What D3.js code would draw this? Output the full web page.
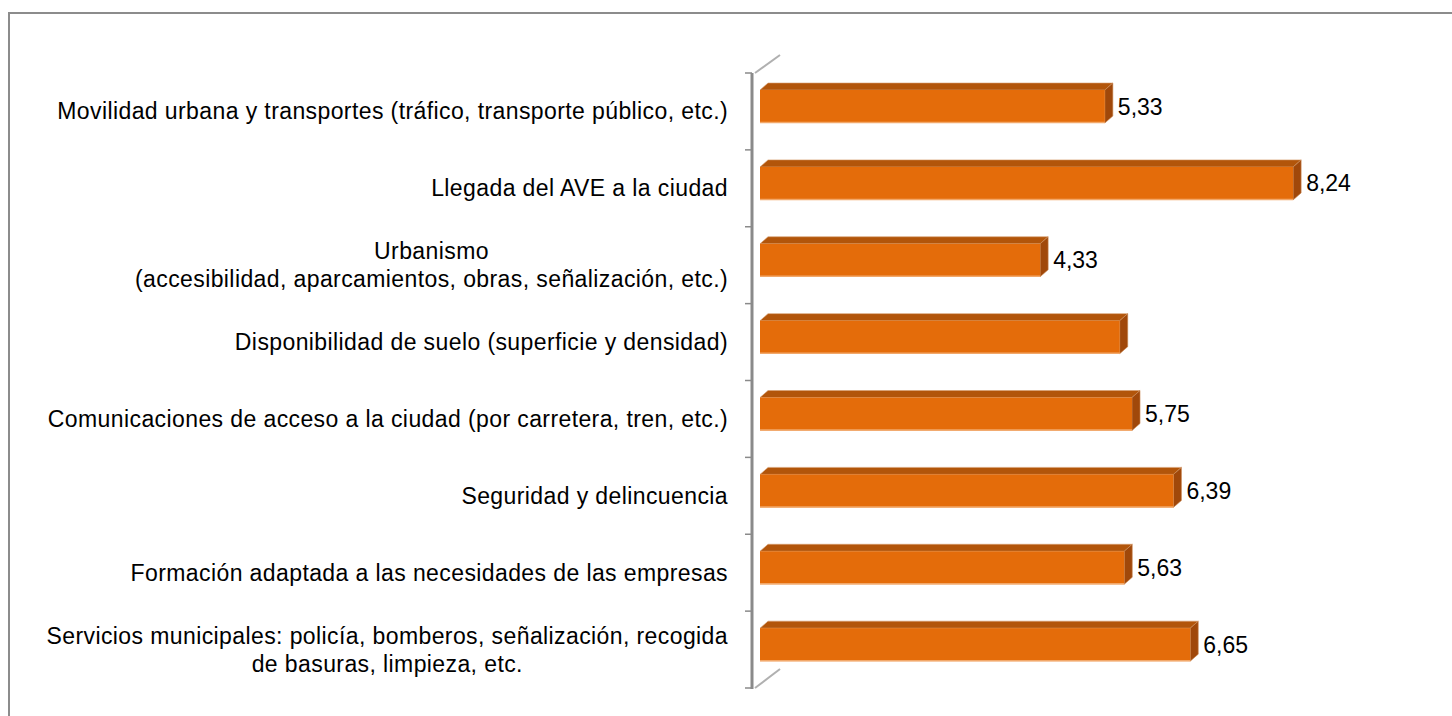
<!DOCTYPE html>
<html><head><meta charset="utf-8">
<script src="https://cdn.jsdelivr.net/npm/d3@7"></script>
<style>html,body{margin:0;padding:0;background:#fff;}svg{display:block;}</style>
</head><body>
<svg id="c" width="1452" height="716"></svg>
<script>
const categories = [
  ["Movilidad urbana y transportes (tráfico, transporte público, etc.)"],
  ["Llegada del AVE a la ciudad"],
  ["Urbanismo", "(accesibilidad, aparcamientos, obras, señalización, etc.)"],
  ["Disponibilidad de suelo (superficie y densidad)"],
  ["Comunicaciones de acceso a la ciudad (por carretera, tren, etc.)"],
  ["Seguridad y delincuencia"],
  ["Formación adaptada a las necesidades de las empresas"],
  ["Servicios municipales: policía, bomberos, señalización, recogida", "de basuras, limpieza, etc."]
];
const values = [5.33, 8.24, 4.33, 5.56, 5.75, 6.39, 5.63, 6.65];
const valueLabels = ["5,33", "8,24", "4,33", "", "5,75", "6,39", "5,63", "6,65"];

const svg = d3.select("#c");
const font = "'Liberation Sans', Arial, sans-serif";

// frame
svg.append("path").attr("d", "M9,716 V13 H1452").attr("fill", "none").attr("stroke", "#8c8c8c").attr("stroke-width", 2);

const x = d3.scaleLinear().domain([0, 10]).range([760, 1407]);
const y = d3.scaleBand().domain(d3.range(categories.length)).range([73, 688]).paddingInner(0).paddingOuter(0);
const bw = y.bandwidth();
const d = 8;
const faceTop = 17, faceH = 33;

// axis
svg.append("line").attr("x1", 752).attr("x2", 752).attr("y1", 73).attr("y2", 689)
  .attr("stroke", "#8a8a8a").attr("stroke-width", 3);
const ticks = d3.range(categories.length + 1).map(i => 73 + i * bw);
svg.selectAll(".tk").data(ticks).join("line").attr("class", "tk")
  .attr("x1", 745).attr("x2", 752).attr("y1", t => t).attr("y2", t => t)
  .attr("stroke", "#8a8a8a").attr("stroke-width", 1.5);
// 3D depth diagonals
svg.append("line").attr("x1", 755).attr("y1", 73).attr("x2", 780).attr("y2", 55).attr("stroke", "#b0b0b0").attr("stroke-width", 2);
svg.append("line").attr("x1", 755).attr("y1", 688).attr("x2", 780).attr("y2", 669).attr("stroke", "#b0b0b0").attr("stroke-width", 2);

const g = svg.append("g");
values.forEach((v, i) => {
  const x0 = x(0), x1 = x(v);
  const yt = y(i) + faceTop, yb = yt + faceH;
  g.append("path").attr("d", `M${x0},${yt} L${x0 + d},${yt - d + 1} L${x1 + d},${yt - d + 1} L${x1},${yt} Z`)
    .attr("fill", "#b2550a").attr("stroke", "#d9a070").attr("stroke-width", 0.6);
  g.append("path").attr("d", `M${x1},${yt} L${x1 + d},${yt - d + 1} L${x1 + d},${yb - d + 1} L${x1},${yb} Z`)
    .attr("fill", "#a0480a").attr("stroke", "#c98a55").attr("stroke-width", 0.6);
  g.append("rect").attr("x", x0).attr("y", yt).attr("width", x1 - x0).attr("height", faceH)
    .attr("fill", "#e46c0a");
  g.append("line").attr("x1", x0).attr("x2", x1).attr("y1", yb - 0.5).attr("y2", yb - 0.5)
    .attr("stroke", "#f2a86a").attr("stroke-width", 1.5);
  if (valueLabels[i]) {
    svg.append("text").attr("x", x1 + d + 5).attr("y", yt + faceH / 2).attr("dy", "0.35em")
      .attr("font-family", font).attr("font-size", 23).attr("fill", "#000").text(valueLabels[i]);
  }
});

// category labels (multi-line labels are centred as a block, block right-aligned)
const right = 728;
categories.forEach((lines, i) => {
  const cy = y(i) + bw / 2;
  const lh = 28;
  const t = svg.append("text").attr("font-family", font).attr("font-size", 23)
    .attr("letter-spacing", 0.4).attr("fill", "#000");
  const spans = lines.map((ln, j) => t.append("tspan")
    .attr("y", cy + (j - (lines.length - 1) / 2) * lh).attr("dy", "0.35em").text(ln));
  if (lines.length === 1) {
    spans[0].attr("x", right).attr("text-anchor", "end");
  } else {
    const maxW = d3.max(spans, s => s.node().getComputedTextLength());
    spans.forEach(s => s.attr("x", right - maxW / 2).attr("text-anchor", "middle"));
  }
});
</script>
</body></html>
